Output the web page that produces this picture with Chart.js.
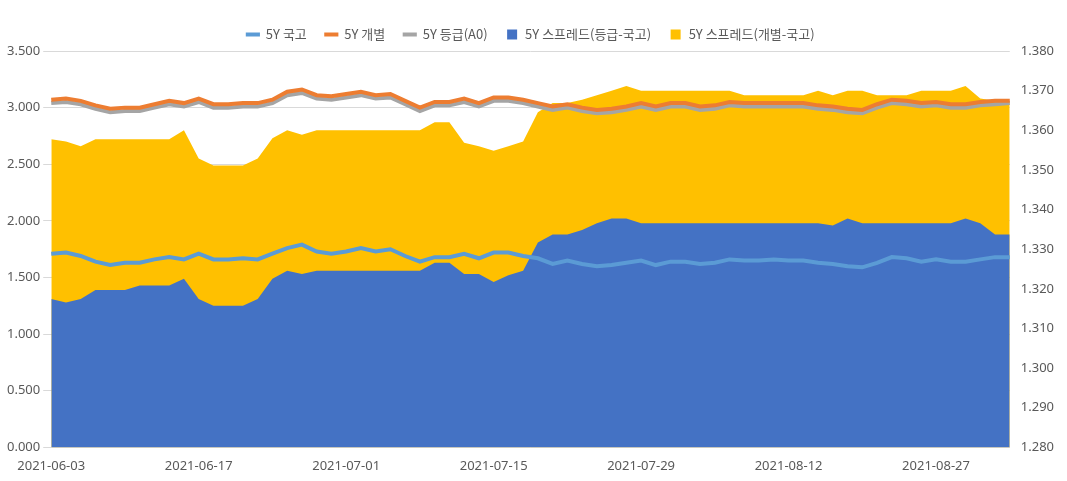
<!DOCTYPE html>
<html><head><meta charset="utf-8">
<script src="https://cdn.jsdelivr.net/npm/chart.js@4/dist/chart.umd.min.js"></script>
<style>html,body{margin:0;padding:0;background:#fff}#w{width:1067px;height:481px}</style>
</head><body><div id="w"><canvas id="c"></canvas></div>
<script>
const dates = ["2021-06-03","2021-06-04","2021-06-07","2021-06-08","2021-06-09","2021-06-10","2021-06-11","2021-06-14","2021-06-15","2021-06-16",
"2021-06-17","2021-06-18","2021-06-21","2021-06-22","2021-06-23","2021-06-24","2021-06-25","2021-06-28","2021-06-29","2021-06-30",
"2021-07-01","2021-07-02","2021-07-05","2021-07-06","2021-07-07","2021-07-08","2021-07-09","2021-07-12","2021-07-13","2021-07-14",
"2021-07-15","2021-07-16","2021-07-19","2021-07-20","2021-07-21","2021-07-22","2021-07-23","2021-07-26","2021-07-27","2021-07-28",
"2021-07-29","2021-07-30","2021-08-02","2021-08-03","2021-08-04","2021-08-05","2021-08-06","2021-08-09","2021-08-10","2021-08-11",
"2021-08-12","2021-08-13","2021-08-17","2021-08-18","2021-08-19","2021-08-20","2021-08-23","2021-08-24","2021-08-25","2021-08-26",
"2021-08-27","2021-08-30","2021-08-31","2021-09-01","2021-09-02","2021-09-03"];
const spreadIndiv = [2.72,2.70,2.66,2.72,2.72,2.72,2.72,2.72,2.72,2.80,
2.55,2.49,2.49,2.49,2.55,2.73,2.80,2.76,2.80,2.80,
2.80,2.80,2.80,2.80,2.80,2.80,2.87,2.87,2.69,2.66,
2.62,2.66,2.70,2.96,3.04,3.04,3.07,3.11,3.15,3.19,
3.15,3.15,3.15,3.15,3.15,3.15,3.15,3.11,3.11,3.11,
3.11,3.11,3.15,3.11,3.15,3.15,3.11,3.11,3.11,3.15,
3.15,3.15,3.19,3.08,3.06,3.06];
const spreadGrade = [1.31,1.28,1.31,1.39,1.39,1.39,1.43,1.43,1.43,1.49,
1.31,1.25,1.25,1.25,1.31,1.49,1.56,1.53,1.56,1.56,
1.56,1.56,1.56,1.56,1.56,1.56,1.63,1.63,1.53,1.53,
1.46,1.52,1.56,1.81,1.88,1.88,1.92,1.98,2.02,2.02,
1.98,1.98,1.98,1.98,1.98,1.98,1.98,1.98,1.98,1.98,
1.98,1.98,1.98,1.96,2.02,1.98,1.98,1.98,1.98,1.98,
1.98,1.98,2.02,1.98,1.88,1.88];
const gukgo = [1.71,1.72,1.69,1.64,1.61,1.63,1.63,1.66,1.68,1.66,
1.71,1.66,1.66,1.67,1.66,1.71,1.76,1.79,1.73,1.71,
1.73,1.76,1.73,1.75,1.69,1.64,1.68,1.68,1.71,1.67,
1.72,1.72,1.69,1.67,1.62,1.65,1.62,1.60,1.61,1.63,
1.65,1.61,1.64,1.64,1.62,1.63,1.66,1.65,1.65,1.66,
1.65,1.65,1.63,1.62,1.60,1.59,1.63,1.68,1.67,1.64,
1.66,1.64,1.64,1.66,1.68,1.68];
const indiv = [3.07,3.08,3.06,3.02,2.99,3.00,3.00,3.03,3.06,3.04,
3.08,3.03,3.03,3.04,3.04,3.07,3.14,3.16,3.11,3.10,
3.12,3.14,3.11,3.12,3.06,3.00,3.05,3.05,3.08,3.04,
3.09,3.09,3.07,3.04,3.01,3.03,3.00,2.98,2.99,3.01,
3.04,3.01,3.04,3.04,3.01,3.02,3.05,3.04,3.04,3.04,
3.04,3.04,3.02,3.01,2.99,2.98,3.03,3.07,3.06,3.04,
3.05,3.03,3.03,3.05,3.06,3.06];
const gradeA0 = [3.04,3.05,3.03,2.99,2.96,2.97,2.97,3.00,3.03,3.01,
3.05,3.00,3.00,3.01,3.01,3.04,3.11,3.13,3.08,3.07,
3.09,3.11,3.08,3.09,3.03,2.97,3.02,3.02,3.05,3.01,
3.06,3.06,3.04,3.01,2.98,3.00,2.97,2.95,2.96,2.98,
3.01,2.98,3.01,3.01,2.98,2.99,3.02,3.01,3.01,3.01,
3.01,3.01,2.99,2.98,2.96,2.95,3.00,3.04,3.03,3.01,
3.02,3.00,3.00,3.02,3.03,3.04];
const leftTicks = [0,0.5,1,1.5,2,2.5,3,3.5];
const rightMin = 1.28, rightMax = 1.38;

const lineDs = (label, data, color) => ({type:'line', label, data, borderColor:color, backgroundColor:color,
  borderWidth:4, pointRadius:0, tension:0, fill:false, yAxisID:'y', order:1, pointStyle:'line'});
new Chart(document.getElementById('c'), {
  data: {labels: dates, datasets: [
    {type:'line', label:'5Y 스프레드(개별-국고)', data:spreadIndiv, backgroundColor:'#FFC000', borderWidth:0, borderColor:'#FFC000',
     pointRadius:0, fill:'origin', yAxisID:'y', order:6, pointStyle:'rect'},
    {type:'line', label:'5Y 스프레드(등급-국고)', data:spreadGrade, backgroundColor:'#4472C4', borderWidth:0, borderColor:'#4472C4',
     pointRadius:0, fill:'origin', yAxisID:'y', order:5, pointStyle:'rect'},
    lineDs('5Y 국고', gukgo, '#5B9BD5'),
    lineDs('5Y 개별', indiv, '#ED7D31'),
    lineDs('5Y 등급(A0)', gradeA0, '#A5A5A5'),
    {type:'line', label:'_r', data:[], yAxisID:'y1'}
  ]},
  options: {
    responsive:true, maintainAspectRatio:false, animation:false,
    layout:{padding:{left:4,right:10,top:10,bottom:4}},
    plugins:{
      legend:{position:'top', labels:{usePointStyle:true, boxWidth:30, boxHeight:10, padding:18, color:'#595959',
        font:{family:'"Noto Sans CJK KR", "Noto Sans", sans-serif', size:13},
        filter:(it)=>it.text!=='_r'}},
      tooltip:{enabled:false}
    },
    scales:{
      x:{grid:{display:false}, border:{color:'#d9d9d9'},
        ticks:{autoSkip:false, maxRotation:0, color:'#595959', font:{family:'"Noto Sans", sans-serif', size:13},
          callback:function(v,i){return i%10===0?this.getLabelForValue(v):'';}}},
      y:{position:'left', min:0, max:3.5, afterBuildTicks:(s)=>{s.ticks=leftTicks.map(v=>({value:v}));},
        grid:{color:'#d9d9d9'}, border:{display:false},
        ticks:{color:'#595959', font:{family:'"Noto Sans", sans-serif', size:13}, callback:v=>v.toFixed(3)}},
      y1:{position:'right', min:rightMin, max:rightMax, grid:{display:false}, border:{display:false},
        ticks:{stepSize:0.01, color:'#595959', font:{family:'"Noto Sans", sans-serif', size:13}, callback:v=>v.toFixed(3)}}
    }
  }
});
</script></body></html>
